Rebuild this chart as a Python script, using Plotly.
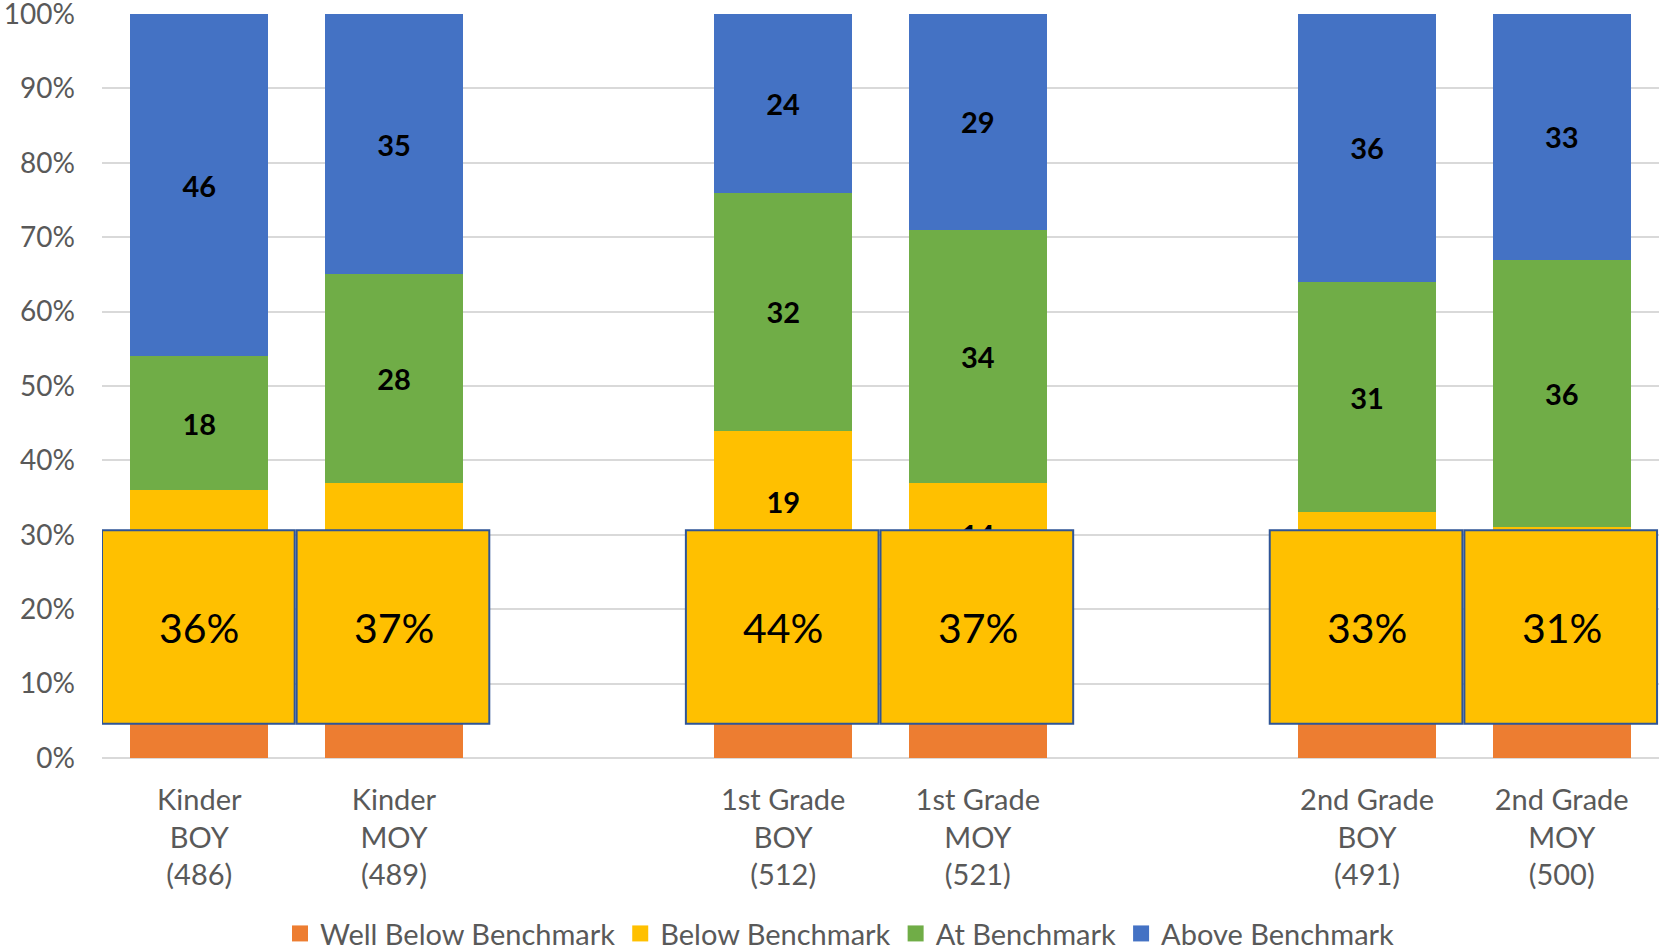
import plotly.graph_objects as go

# ---- data ----
categories = [
    "Kinder<br>BOY<br>(486)", "Kinder<br>MOY<br>(489)", " ",
    "1st Grade<br>BOY<br>(512)", "1st Grade<br>MOY<br>(521)", "  ",
    "2nd Grade<br>BOY<br>(491)", "2nd Grade<br>MOY<br>(500)",
]
well_below = [20, 19, None, 25, 23, None, 20, 18]
below = [16, 18, None, 19, 14, None, 13, 13]
at_bench = [18, 28, None, 32, 34, None, 31, 36]
above = [46, 35, None, 24, 29, None, 36, 33]

series_names = ["Well Below Benchmark", "Below Benchmark", "At Benchmark", "Above Benchmark"]
series_values = [well_below, below, at_bench, above]
series_colors = ["#ED7D31", "#FFC000", "#70AD47", "#4472C4"]
show_labels = [False, True, True, True]  # well-below labels sit under the overlay boxes

FONT = "Lato"
GRAY = "#595959"

fig = go.Figure()
for name, vals, col, lab in zip(series_names, series_values, series_colors, show_labels):
    fig.add_trace(go.Bar(
        name=name, x=categories, y=vals, marker_color=col, marker_line_width=0,
        text=[("" if (v is None or not lab) else str(v)) for v in vals],
        textposition="inside", insidetextanchor="middle",
        textfont=dict(family=FONT, size=29, color="black", weight="bold"),
        textangle=0, cliponaxis=False, showlegend=False,
    ))
# legend entries with larger square swatches
for name, col in zip(series_names, series_colors):
    fig.add_trace(go.Scatter(
        name=name, x=[None], y=[None], mode="markers",
        marker=dict(symbol="square", size=17, color=col), showlegend=True,
    ))

# overlay boxes: total of well below + below
shapes = []
annotations = []
for i, (wb, b) in enumerate(zip(well_below, below)):
    if wb is None:
        continue
    shapes.append(dict(
        type="rect", xref="x", yref="y", x0=i - 0.5, x1=i + 0.49, y0=4.6, y1=30.6,
        fillcolor="#FFC000", line=dict(color="#2F5597", width=2), layer="above",
    ))
    annotations.append(dict(
        x=i, y=17.6, xref="x", yref="y", text=f"{wb + b}%", showarrow=False,
        font=dict(family=FONT, size=41, color="black"),
    ))

fig.update_layout(
    barmode="stack", bargap=0.29,
    width=1659, height=951,
    margin=dict(l=102, r=0, t=14, b=193, autoexpand=False),
    paper_bgcolor="white", plot_bgcolor="white",
    font=dict(family=FONT, color=GRAY, size=28),
    shapes=shapes, annotations=annotations,
    legend=dict(
        orientation="h", x=0.474, xanchor="center", y=-0.236, yanchor="middle",
        font=dict(family=FONT, size=29, color=GRAY), traceorder="normal",
        itemwidth=30,
    ),
    xaxis=dict(
        type="category", categoryorder="array", categoryarray=categories,
        range=[-0.5, len(categories) - 0.5], showgrid=False, ticks="",
        tickfont=dict(family=FONT, size=29, color=GRAY), showline=False,
        automargin=False, ticklabelstandoff=22,
    ),
    yaxis=dict(
        range=[0, 100], tickvals=list(range(0, 101, 10)),
        ticktext=[f"{v}%" for v in range(0, 101, 10)],
        showgrid=True, gridcolor="#D9D9D9", gridwidth=2,
        zeroline=True, zerolinecolor="#D9D9D9", zerolinewidth=2,
        tickfont=dict(family=FONT, size=28, color=GRAY), ticklabelstandoff=26,
        automargin=False, ticklabeloverflow="allow",
    ),
)

fig.write_html(
    "out.html",
    config={"displayModeBar": False},
    post_script="document.body.style.margin='0px';",
)
